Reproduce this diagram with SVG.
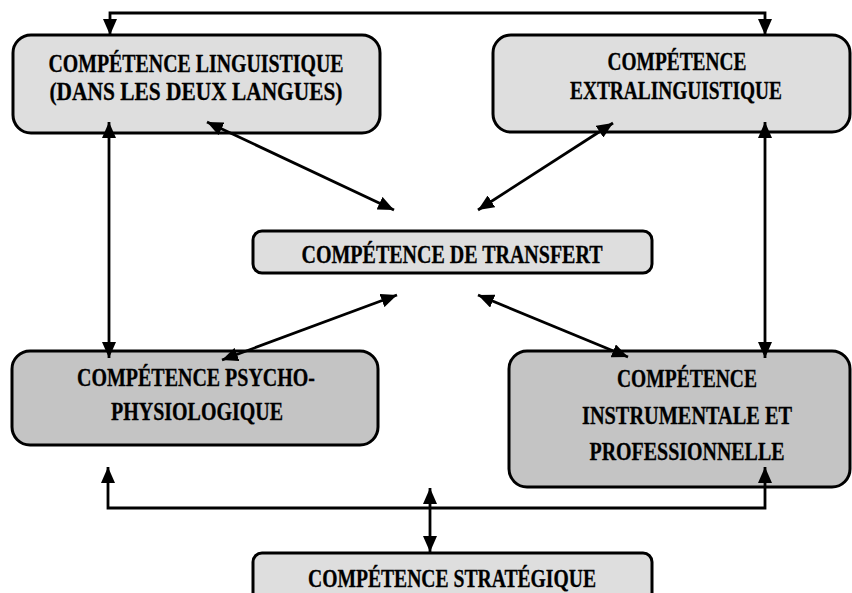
<svg xmlns="http://www.w3.org/2000/svg" width="852" height="593" viewBox="0 0 852 593">
<style>
.box{stroke:#000;stroke-width:3}
.light{fill:#dedede}
.dark{fill:#c4c4c4}
.lbl{font-family:"Liberation Serif","Times New Roman",serif;font-weight:bold;font-size:25px;fill:#000;stroke:#000;stroke-width:0.3;text-anchor:middle}
.con{fill:none;stroke:#000;stroke-width:2.8;marker-start:url(#ah);marker-end:url(#ah)}
</style>
<defs>
<marker id="ah" viewBox="0 0 16 14" refX="16" refY="7" markerWidth="16" markerHeight="14" markerUnits="userSpaceOnUse" orient="auto-start-reverse">
<path d="M0,0 L16,7 L0,14 z" fill="#000"/>
</marker>
</defs>
<rect width="852" height="593" fill="#fff"/>
<g id="linguistique">
<rect class="box light" x="13" y="35" width="367" height="98" rx="18"/>
<text class="lbl" x="196" y="72" textLength="295" lengthAdjust="spacingAndGlyphs">COMPÉTENCE LINGUISTIQUE</text>
<text class="lbl" x="196" y="100" textLength="293" lengthAdjust="spacingAndGlyphs">(DANS LES DEUX LANGUES)</text>
</g>
<g id="extralinguistique">
<rect class="box light" x="493" y="35" width="357" height="97" rx="18"/>
<text class="lbl" x="677" y="70" textLength="139" lengthAdjust="spacingAndGlyphs">COMPÉTENCE</text>
<text class="lbl" x="676" y="99" textLength="212" lengthAdjust="spacingAndGlyphs">EXTRALINGUISTIQUE</text>
</g>
<g id="transfert">
<rect class="box light" x="253" y="231" width="399" height="42" rx="9"/>
<text class="lbl" x="452" y="263" textLength="301" lengthAdjust="spacingAndGlyphs">COMPÉTENCE DE TRANSFERT</text>
</g>
<g id="psycho">
<rect class="box dark" x="12" y="351" width="366" height="94" rx="18"/>
<text class="lbl" x="196" y="386" textLength="238" lengthAdjust="spacingAndGlyphs">COMPÉTENCE PSYCHO-</text>
<text class="lbl" x="197" y="420" textLength="172" lengthAdjust="spacingAndGlyphs">PHYSIOLOGIQUE</text>
</g>
<g id="instrumentale">
<rect class="box dark" x="509" y="351" width="341" height="136" rx="18"/>
<text class="lbl" x="687" y="387" textLength="140" lengthAdjust="spacingAndGlyphs">COMPÉTENCE</text>
<text class="lbl" x="687" y="424" textLength="210" lengthAdjust="spacingAndGlyphs">INSTRUMENTALE ET</text>
<text class="lbl" x="687" y="460" textLength="195" lengthAdjust="spacingAndGlyphs">PROFESSIONNELLE</text>
</g>
<g id="strategique">
<rect class="box light" x="253" y="553" width="399" height="60" rx="9"/>
<text class="lbl" x="452" y="587" textLength="288" lengthAdjust="spacingAndGlyphs">COMPÉTENCE STRATÉGIQUE</text>
</g>
<g id="connectors">
<path class="con" d="M110,35 V13 H765 V35"/>
<path class="con" d="M109,122 V358"/>
<path class="con" d="M765,122 V358"/>
<path class="con" d="M207,122 L394,210"/>
<path class="con" d="M613,123 L478,210"/>
<path class="con" d="M397,295 L222,360"/>
<path class="con" d="M478,295 L628,357"/>
<path class="con" d="M108,467 V508 H765 V467"/>
<path class="con" d="M430,488 V552"/>
</g>
</svg>
